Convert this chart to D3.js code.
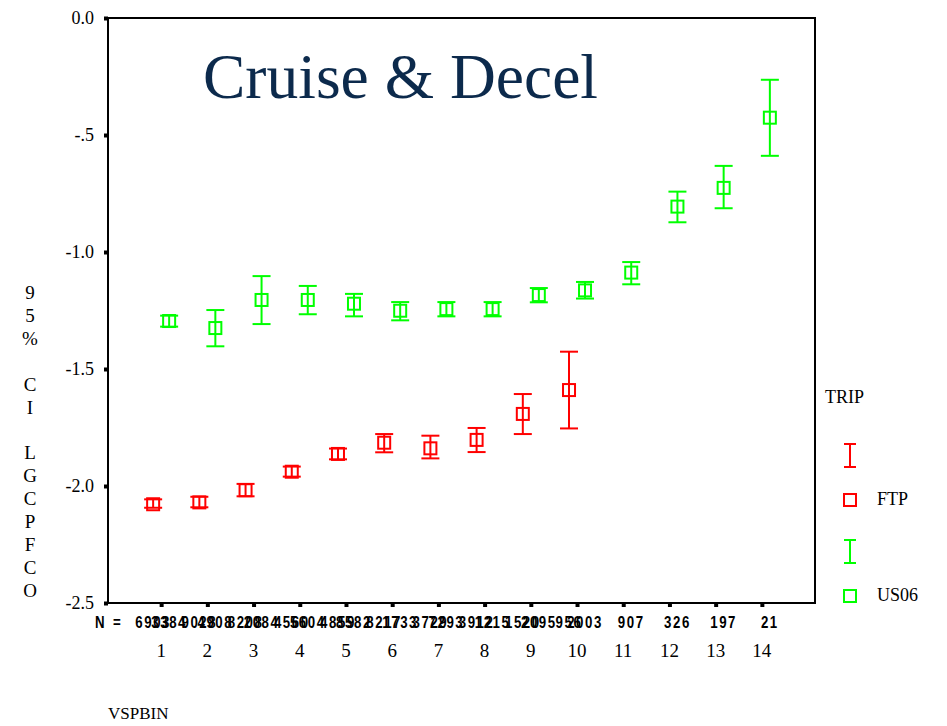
<!DOCTYPE html>
<html>
<head>
<meta charset="utf-8">
<script src="https://cdn.jsdelivr.net/npm/d3@7"></script>
<style>
  html, body { margin: 0; padding: 0; background: #fff; }
  svg { display: block; }
</style>
</head>
<body>
<div id="chart"></div>
<script>
// VSP bins and per-trip statistics (mean log CO with 95% CI bounds)
const bins = [1, 2, 3, 4, 5, 6, 7, 8, 9, 10, 11, 12, 13, 14];

const ftpMean  = [-2.078, -2.070, -2.018, -1.939, -1.863, -1.815, -1.839, -1.803, -1.692, -1.590];
const ftpLow   = [-2.093, -2.091, -2.044, -1.960, -1.886, -1.856, -1.882, -1.855, -1.778, -1.754];
const ftpHigh  = [-2.057, -2.046, -1.991, -1.917, -1.840, -1.778, -1.785, -1.752, -1.607, -1.426];

const usMean   = [-1.295, -1.325, -1.205, -1.205, -1.221, -1.251, -1.244, -1.244, -1.184, -1.164, -1.088, -0.806, -0.726, -0.426];
const usLow    = [-1.319, -1.403, -1.308, -1.266, -1.275, -1.292, -1.275, -1.275, -1.215, -1.199, -1.138, -0.873, -0.813, -0.589];
const usHigh   = [-1.272, -1.248, -1.103, -1.145, -1.179, -1.214, -1.214, -1.214, -1.154, -1.128, -1.043, -0.742, -0.632, -0.264];

// Cases per bin, FTP and US06
const ftpN = [6903, 9028, 8208, 4560, 4859, 8217, 3729, 3912, 1520, 956];
const usN  = [3384, 4908, 2084, 5604, 8582, 1733, 7293, 1215, 2095, 2003, 907, 326, 197, 21];

const yTicks = [0, -0.5, -1.0, -1.5, -2.0, -2.5];
const yTickLabels = ["0.0", "-.5", "-1.0", "-1.5", "-2.0", "-2.5"];
const yTitle = ["9", "5", "%", "", "C", "I", "", "L", "G", "C", "P", "F", "C", "O"];

const trips = ["FTP", "US06"];
const tripColors = ["#ff0000", "#00ff00"];

const W = 947, H = 726;
const plot = { left: 108, right: 815, top: 18, bottom: 603 };

const svg = d3.select("#chart").append("svg")
  .attr("width", W).attr("height", H);

const x = d3.scalePoint().domain(bins).range([plot.left, plot.right]).padding(1.15);
const y = d3.scaleLinear().domain([-2.5, 0]).range([plot.bottom, plot.top]);
const offset = d3.scalePoint().domain(trips).range([-8, 8]);
const color = d3.scaleOrdinal().domain(trips).range(tripColors);

const serif = "'Liberation Serif', 'Times New Roman', serif";

// Title
svg.append("text")
  .attr("x", 203).attr("y", 98)
  .attr("font-family", serif).attr("font-size", 63.5)
  .attr("fill", "#0c2a4c")
  .text("Cruise & Decel");

// Y axis ticks and labels
const yAxis = d3.axisLeft(y).tickValues(yTicks).tickSize(4).tickPadding(10)
  .tickFormat((d, i) => yTickLabels[i]);
const gy = svg.append("g").attr("transform", `translate(${plot.left},0)`).call(yAxis);
gy.select(".domain").remove();
gy.selectAll(".tick line").attr("stroke", "#000").attr("stroke-width", 4);
gy.selectAll(".tick text").attr("font-family", serif).attr("font-size", 18).attr("fill", "#000");

// X axis ticks
const xAxis = d3.axisBottom(x).tickSize(4).tickFormat("");
const gx = svg.append("g").attr("transform", `translate(0,${plot.bottom})`).call(xAxis);
gx.select(".domain").remove();
gx.selectAll(".tick line").attr("stroke", "#000").attr("stroke-width", 4);

// Plot frame
svg.append("rect")
  .attr("x", plot.left).attr("y", plot.top)
  .attr("width", plot.right - plot.left).attr("height", plot.bottom - plot.top)
  .attr("fill", "none").attr("stroke", "#000").attr("stroke-width", 2);

// Category numbers
svg.append("g").selectAll("text").data(bins).join("text")
  .attr("x", d => x(d)).attr("y", 657)
  .attr("text-anchor", "middle")
  .attr("font-family", serif).attr("font-size", 19)
  .text(d => d);

// Case counts, in a condensed bold face
const sans = "'Liberation Sans', Arial, sans-serif";
const squeeze = 0.78;
svg.append("text")
  .attr("transform", `translate(95,628) scale(${squeeze},1)`)
  .attr("font-family", sans).attr("font-weight", "bold").attr("font-size", 17)
  .attr("letter-spacing", 3)
  .text("N =");
const countRows = [
  { trip: "FTP", n: ftpN },
  { trip: "US06", n: usN }
];
countRows.forEach(row => {
  svg.append("g").selectAll("text").data(row.n).join("text")
    .attr("transform", (d, i) => `translate(${x(bins[i]) + offset(row.trip)},628) scale(${squeeze},1)`)
    .attr("text-anchor", "middle")
    .attr("font-family", sans).attr("font-weight", "bold").attr("font-size", 17)
    .attr("letter-spacing", 2)
    .text(d => d);
});

// Error bars with mean markers
const series = [
  { trip: "FTP", mean: ftpMean, low: ftpLow, high: ftpHigh },
  { trip: "US06", mean: usMean, low: usLow, high: usHigh }
];
const capW = 9, box = 12;
series.forEach(s => {
  const c = color(s.trip);
  const rows = s.mean.map((m, i) => ({ bin: bins[i], m, lo: s.low[i], hi: s.high[i] }));
  const g = svg.append("g").attr("stroke", c).attr("stroke-width", 2).attr("fill", "none");
  const cx = d => x(d.bin) + offset(s.trip);
  g.selectAll("line.v").data(rows).join("line").attr("class", "v")
    .attr("x1", cx).attr("x2", cx)
    .attr("y1", d => y(d.hi)).attr("y2", d => y(d.lo));
  g.selectAll("line.t").data(rows).join("line").attr("class", "t")
    .attr("x1", d => cx(d) - capW).attr("x2", d => cx(d) + capW)
    .attr("y1", d => y(d.hi)).attr("y2", d => y(d.hi));
  g.selectAll("line.b").data(rows).join("line").attr("class", "b")
    .attr("x1", d => cx(d) - capW).attr("x2", d => cx(d) + capW)
    .attr("y1", d => y(d.lo)).attr("y2", d => y(d.lo));
  g.selectAll("rect").data(rows).join("rect")
    .attr("x", d => cx(d) - box / 2).attr("y", d => y(d.m) - box / 2)
    .attr("width", box).attr("height", box)
    .attr("fill", "none");
});

// Y axis title, one character per line
svg.append("g").selectAll("text").data(yTitle).join("text")
  .attr("x", 30).attr("y", (d, i) => 299 + i * 22.9)
  .attr("text-anchor", "middle")
  .attr("font-family", serif).attr("font-size", 19)
  .text(d => d);

// X axis title
svg.append("text")
  .attr("x", 108).attr("y", 719)
  .attr("font-family", serif).attr("font-size", 17)
  .text("VSPBIN");

// Legend
const leg = svg.append("g");
leg.append("text").attr("x", 825).attr("y", 403)
  .attr("font-family", serif).attr("font-size", 18).text("TRIP");
trips.forEach((t, i) => {
  const top = 444 + i * 96;
  const c = color(t);
  const lg = leg.append("g").attr("stroke", c).attr("stroke-width", 2).attr("fill", "none");
  lg.append("line").attr("x1", 850).attr("x2", 850).attr("y1", top).attr("y2", top + 23);
  lg.append("line").attr("x1", 844).attr("x2", 856).attr("y1", top).attr("y2", top);
  lg.append("line").attr("x1", 844).attr("x2", 856).attr("y1", top + 23).attr("y2", top + 23);
  lg.append("rect").attr("x", 844).attr("y", top + 50).attr("width", 12).attr("height", 12);
  leg.append("text").attr("x", 877).attr("y", top + 61)
    .attr("font-family", serif).attr("font-size", 18).text(t);
});
</script>
</body>
</html>
